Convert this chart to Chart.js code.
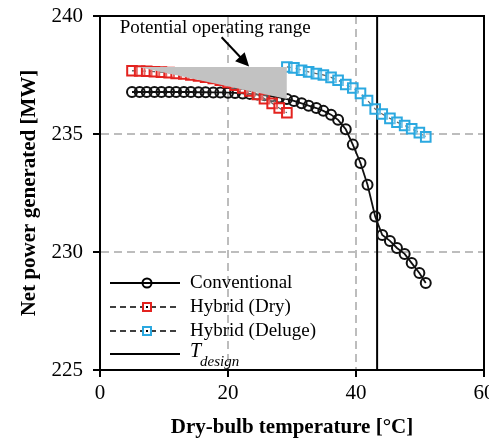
<!DOCTYPE html>
<html>
<head>
<meta charset="utf-8">
<script src="https://cdn.jsdelivr.net/npm/chart.js@4.4.1/dist/chart.umd.min.js"></script>
<style>
  html, body { margin: 0; padding: 0; background: #fff; overflow: hidden; }
  #wrap { width: 505px; height: 443px; }
</style>
</head>
<body>
<div id="wrap"><canvas id="chart" width="505" height="443"></canvas></div>
<script>
// dry-bulb temperature [°C]
const temps = [5.0, 6.2, 7.3, 8.5, 9.6, 10.8, 11.9, 13.1, 14.2, 15.4, 16.5, 17.7, 18.8, 20.0,
  21.1, 22.3, 23.4, 24.6, 25.7, 26.9, 28.0, 29.2, 30.3, 31.5, 32.6, 33.8, 34.9, 36.1, 37.2,
  38.4, 39.5, 40.7, 41.8, 43.0, 44.1, 45.3, 46.4, 47.6, 48.7, 49.9, 50.9];

// net power [MW]
const conventional = [236.78, 236.78, 236.78, 236.78, 236.78, 236.78, 236.78, 236.78, 236.78,
  236.77, 236.77, 236.76, 236.76, 236.75, 236.74, 236.72, 236.70, 236.67, 236.64, 236.60,
  236.55, 236.48, 236.40, 236.30, 236.20, 236.10, 235.98, 235.82, 235.60, 235.20, 234.55,
  233.77, 232.85, 231.50, 230.72, 230.47, 230.17, 229.92, 229.53, 229.11, 228.69];
const hybridDry = [237.68, 237.67, 237.66, 237.64, 237.62, 237.60, 237.57, 237.54, 237.50,
  237.46, 237.41, 237.35, 237.28, 237.18, 237.07, 236.95, 236.82, 236.68, 236.50, 236.30,
  236.10, 235.90];
const hybridDeluge = [237.84, 237.80, 237.70, 237.63, 237.56, 237.50, 237.40, 237.28, 237.10,
  236.95, 236.72, 236.42, 236.06, 235.85, 235.66, 235.50, 235.36, 235.22, 235.06, 234.88];

const tDesign = 43.3;
const shadeX = [6.0, 29.2];
const shadeTop = [237.84, 237.84];
const shadeBottom = [237.84, 236.48];

const xTicks = [0, 20, 40, 60];
const yTicks = [225, 230, 235, 240];

const SERIF = '"Liberation Serif", "DejaVu Serif", serif';
const RED = "#e3231f";
const BLUE = "#2aa8e0";

const pts = (xs, ys) => ys.map((y, i) => ({ x: xs[i], y: y }));
const delugeTemps = temps.slice(temps.length - hybridDeluge.length);

// arrow + label above the shaded area, and the top/right frame
const annotations = {
  id: "annotations",
  afterDatasetsDraw(chart) {
    const { ctx, chartArea, scales: { x, y } } = chart;
    ctx.save();
    ctx.strokeStyle = "#000";
    ctx.lineWidth = 2;
    ctx.beginPath();
    ctx.moveTo(chartArea.left, chartArea.top);
    ctx.lineTo(chartArea.right, chartArea.top);
    ctx.lineTo(chartArea.right, chartArea.bottom);
    ctx.stroke();

    ctx.fillStyle = "#000";
    ctx.font = "19px " + SERIF;
    ctx.textAlign = "center";
    ctx.textBaseline = "middle";
    ctx.fillText("Potential operating range", x.getPixelForValue(18.0), y.getPixelForValue(239.5));

    const x0 = x.getPixelForValue(19.0), y0 = y.getPixelForValue(239.1);
    const x1 = x.getPixelForValue(23.3), y1 = y.getPixelForValue(237.86);
    const ang = Math.atan2(y1 - y0, x1 - x0);
    const head = 15;
    ctx.lineWidth = 2;
    ctx.beginPath();
    ctx.moveTo(x0, y0);
    ctx.lineTo(x1 - head * 0.8 * Math.cos(ang), y1 - head * 0.8 * Math.sin(ang));
    ctx.stroke();
    ctx.beginPath();
    ctx.moveTo(x1, y1);
    ctx.lineTo(x1 - head * Math.cos(ang - 0.45), y1 - head * Math.sin(ang - 0.45));
    ctx.lineTo(x1 - head * Math.cos(ang + 0.45), y1 - head * Math.sin(ang + 0.45));
    ctx.closePath();
    ctx.fill();
    ctx.restore();
  },
};

// legend inside the plot, bottom left
const legendBox = {
  id: "legendBox",
  afterDraw(chart) {
    const { ctx } = chart;
    const lx0 = 110, lx1 = 180, mx = 147, tx = 190;
    const rows = [283, 307, 331, 354];
    ctx.save();
    ctx.strokeStyle = "#000";
    ctx.lineWidth = 2;

    ctx.setLineDash([]);
    ctx.beginPath(); ctx.moveTo(lx0, rows[0]); ctx.lineTo(lx1, rows[0]); ctx.stroke();
    ctx.beginPath(); ctx.arc(mx, rows[0], 4.5, 0, Math.PI * 2); ctx.stroke();

    ctx.setLineDash([6, 4]);
    ctx.lineWidth = 1.6;
    ctx.beginPath(); ctx.moveTo(lx0, rows[1]); ctx.lineTo(lx1, rows[1]); ctx.stroke();
    ctx.beginPath(); ctx.moveTo(lx0, rows[2]); ctx.lineTo(lx1, rows[2]); ctx.stroke();
    ctx.setLineDash([]);
    ctx.lineWidth = 2;
    ctx.fillStyle = "#fff";
    ctx.fillRect(mx - 5, rows[1] - 5, 10, 10);
    ctx.fillRect(mx - 5, rows[2] - 5, 10, 10);
    ctx.strokeStyle = RED; ctx.strokeRect(mx - 4, rows[1] - 4, 8, 8);
    ctx.strokeStyle = BLUE; ctx.strokeRect(mx - 4, rows[2] - 4, 8, 8);
    ctx.fillStyle = "#000";
    ctx.fillRect(mx - 1, rows[1] - 1, 2, 2);
    ctx.fillRect(mx - 1, rows[2] - 1, 2, 2);

    ctx.strokeStyle = "#000";
    ctx.beginPath(); ctx.moveTo(lx0, rows[3]); ctx.lineTo(lx1, rows[3]); ctx.stroke();

    ctx.fillStyle = "#000";
    ctx.textAlign = "left";
    ctx.textBaseline = "middle";
    ctx.font = "19px " + SERIF;
    ctx.fillText("Conventional", tx, rows[0]);
    ctx.fillText("Hybrid (Dry)", tx, rows[1]);
    ctx.fillText("Hybrid (Deluge)", tx, rows[2]);
    ctx.font = "italic 20px " + SERIF;
    ctx.fillText("T", tx, rows[3] - 2);
    ctx.font = "italic 15px " + SERIF;
    ctx.fillText("design", tx + 10, rows[3] + 8);
    ctx.restore();
  },
};

const gridColor = (ends) => (c) => (ends.includes(c.tick.value) ? "rgba(0,0,0,0)" : "#bdbdbd");

new Chart(document.getElementById("chart"), {
  type: "scatter",
  data: {
    datasets: [
      {
        data: pts(shadeX, shadeBottom),
        showLine: true,
        borderWidth: 0,
        pointRadius: 0,
        fill: false,
      },
      {
        data: pts(shadeX, shadeTop),
        showLine: true,
        borderWidth: 0,
        pointRadius: 0,
        backgroundColor: "#c2c2c2",
        fill: "-1",
      },
      {
        label: "Hybrid (Dry)",
        data: pts(temps, hybridDry),
        showLine: true,
        borderColor: "#222",
        borderWidth: 1.3,
        borderDash: [5, 4],
        pointStyle: "rect",
        pointRadius: 6.8,
        pointBorderWidth: 2,
        pointBorderColor: RED,
        pointBackgroundColor: "rgba(255,255,255,0.3)",
      },
      {
        label: "Conventional",
        data: pts(temps, conventional),
        showLine: true,
        borderColor: "#111",
        borderWidth: 1.8,
        pointStyle: "circle",
        pointRadius: 5,
        pointBorderWidth: 2,
        pointBorderColor: "#111",
        pointBackgroundColor: "rgba(0,0,0,0)",
      },
      {
        label: "Hybrid (Deluge)",
        data: pts(delugeTemps, hybridDeluge),
        showLine: true,
        borderColor: "#222",
        borderWidth: 1.3,
        borderDash: [5, 4],
        pointStyle: "rect",
        pointRadius: 6.8,
        pointBorderWidth: 2,
        pointBorderColor: BLUE,
        pointBackgroundColor: "rgba(255,255,255,0.3)",
      },
      {
        label: "T_design",
        data: pts([tDesign, tDesign], [yTicks[0], yTicks[yTicks.length - 1]]),
        showLine: true,
        borderColor: "#000",
        borderWidth: 2,
        pointRadius: 0,
      },
    ],
  },
  options: {
    responsive: false,
    animation: false,
    devicePixelRatio: 1,
    layout: { padding: { top: 16, right: 21, left: 0, bottom: 0 } },
    plugins: { legend: { display: false }, tooltip: { enabled: false } },
    scales: {
      x: {
        type: "linear",
        min: xTicks[0],
        max: xTicks[xTicks.length - 1],
        afterBuildTicks: (s) => { s.ticks = xTicks.map((v) => ({ value: v })); },
        afterFit: (s) => { s.height = 73; },
        grid: {
          color: gridColor([0, 60]),
          lineWidth: 2,
          tickColor: "#000",
          tickLength: 7,
          tickWidth: 2,
          tickBorderDash: [],
        },
        border: { color: "#000", width: 2, dash: [8, 5] },
        ticks: { color: "#000", padding: 4, font: { family: SERIF, size: 21 }, maxRotation: 0 },
        title: {
          display: true,
          text: "Dry-bulb temperature [°C]",
          color: "#000",
          font: { family: SERIF, size: 21, weight: "bold" },
          padding: { top: 0, bottom: 3 },
        },
      },
      y: {
        type: "linear",
        min: yTicks[0],
        max: yTicks[yTicks.length - 1],
        afterBuildTicks: (s) => { s.ticks = yTicks.map((v) => ({ value: v })); },
        afterFit: (s) => { s.width = 100; s.paddingTop = 12; s.paddingBottom = 12; },
        grid: {
          color: gridColor([225, 240]),
          lineWidth: 2,
          tickColor: "#000",
          tickLength: 7,
          tickWidth: 2,
          tickBorderDash: [],
        },
        border: { color: "#000", width: 2, dash: [8, 5] },
        ticks: { color: "#000", padding: 10, font: { family: SERIF, size: 21 } },
        title: {
          display: true,
          text: "Net power generated [MW]",
          color: "#000",
          font: { family: SERIF, size: 21, weight: "bold" },
          padding: { top: 17, bottom: 0 },
        },
      },
    },
  },
  plugins: [annotations, legendBox],
});
</script>
</body>
</html>
